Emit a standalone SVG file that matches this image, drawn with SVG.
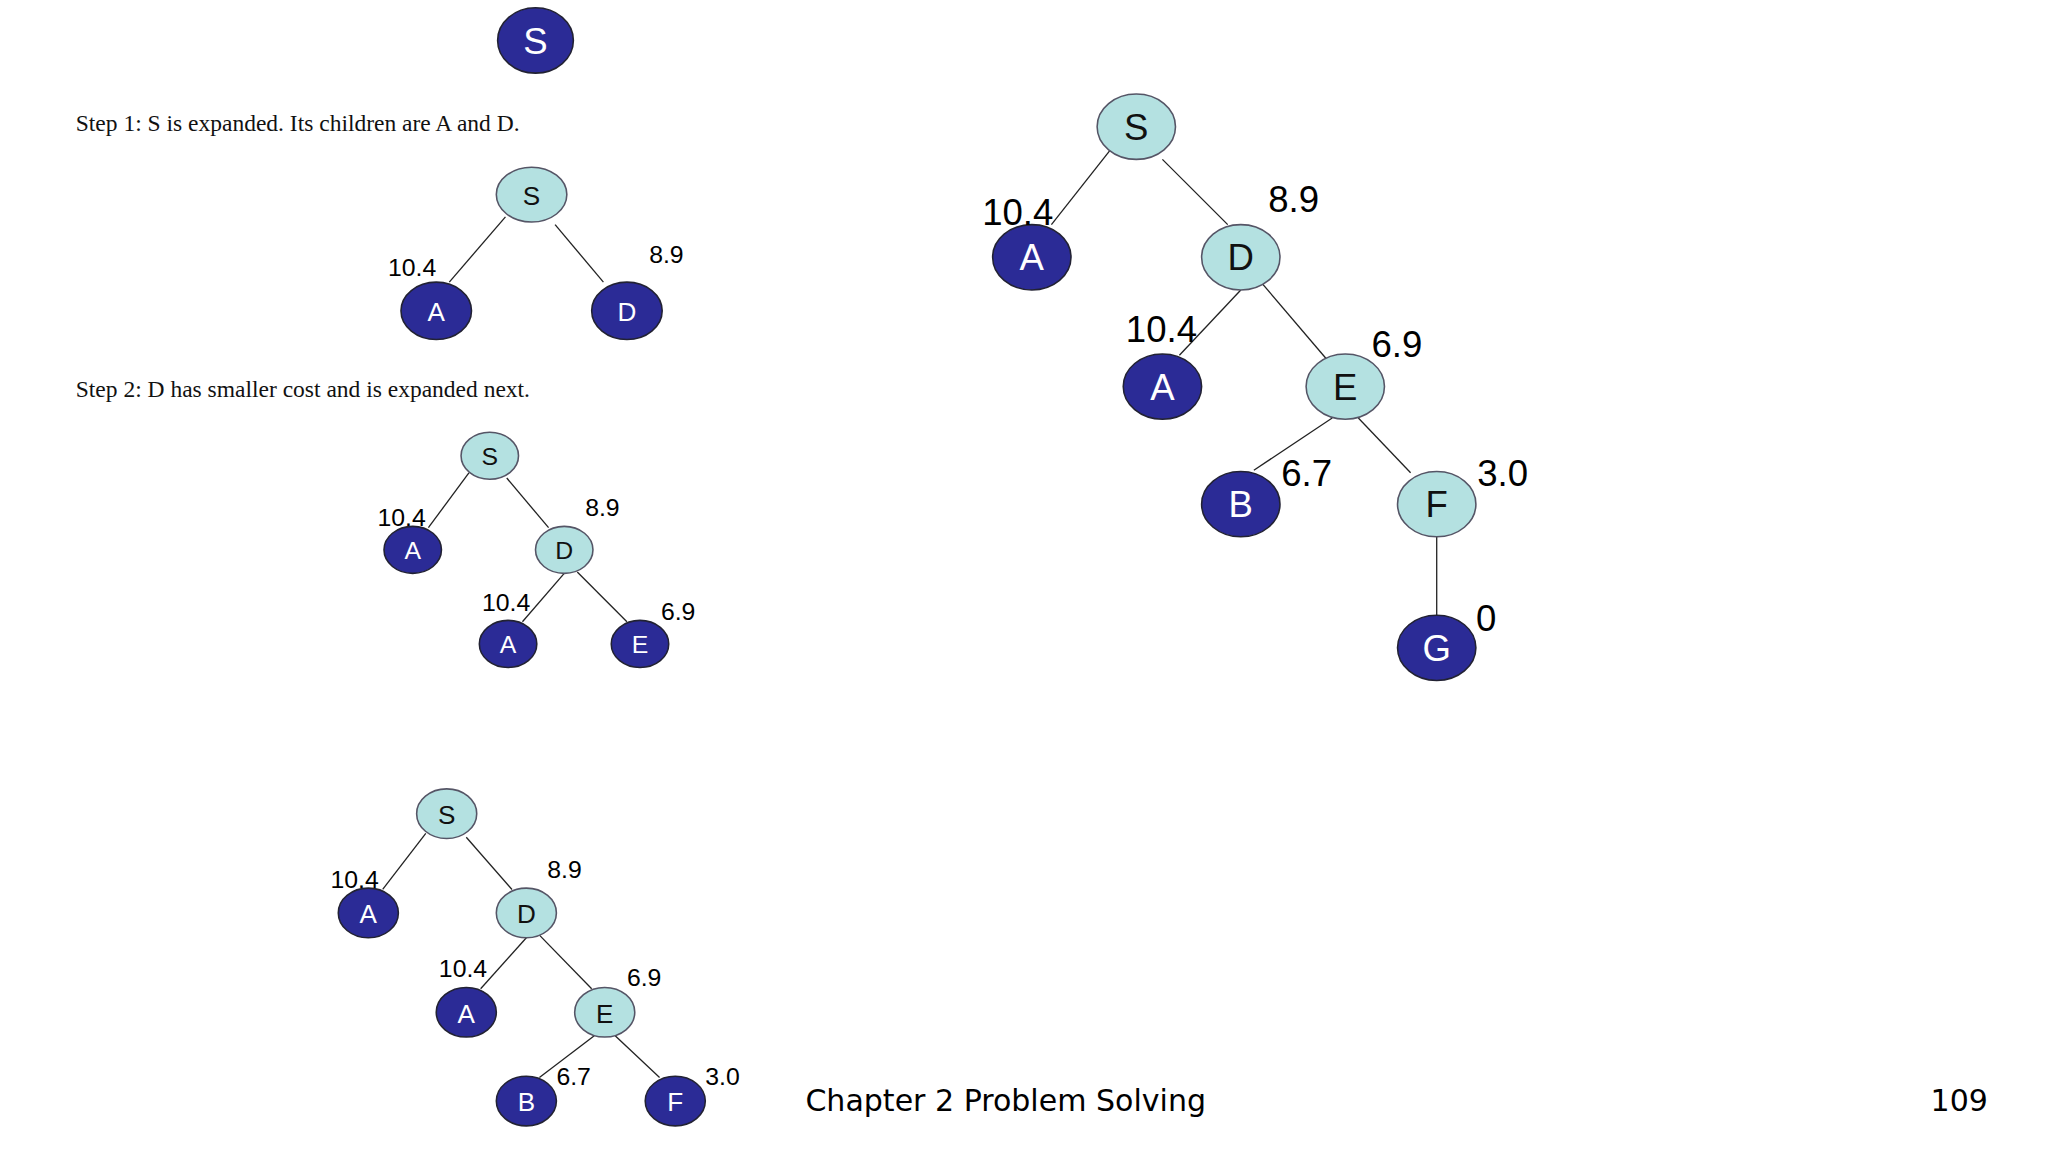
<svg xmlns="http://www.w3.org/2000/svg" width="2048" height="1152" viewBox="0 0 2048 1152">
<style>
.l{fill:#b4e1e1;stroke:#556;stroke-width:1.2}
.d{fill:#2b2b96;stroke:#223;stroke-width:1.2}
.e{stroke:#222;stroke-width:1;fill:none}
.tw{fill:#fff;font-family:"Liberation Sans",Arial,sans-serif;text-anchor:middle}
.tb{fill:#111;font-family:"Liberation Sans",Arial,sans-serif;text-anchor:middle}
.lb{fill:#000;font-family:"Liberation Sans",Arial,sans-serif}
.st{fill:#111;font-family:"Liberation Serif","Times New Roman",serif;font-size:18px}
.ft{fill:#000;font-family:"DejaVu Sans",sans-serif;font-size:23px}
</style>
<rect width="2048" height="1152" fill="#fff"/>
<g transform="scale(1.3061)">
<g id="connectors">
<line class="e" x1="387" y1="166" x2="344" y2="216"/><line class="e" x1="425" y1="172" x2="462" y2="216"/>
<line class="e" x1="359" y1="362" x2="328" y2="404"/><line class="e" x1="388" y1="366" x2="420" y2="404"/>
<line class="e" x1="432" y1="439" x2="400" y2="476"/><line class="e" x1="442" y1="438" x2="480" y2="476"/>
<line class="e" x1="326" y1="638" x2="293" y2="681"/><line class="e" x1="357" y1="641" x2="392" y2="681"/>
<line class="e" x1="403" y1="718" x2="368" y2="757"/><line class="e" x1="413" y1="716" x2="453" y2="757"/>
<line class="e" x1="455" y1="793" x2="413" y2="825"/><line class="e" x1="471" y1="793" x2="505" y2="825"/>
<line class="e" x1="850" y1="115" x2="805" y2="172"/><line class="e" x1="890" y1="122" x2="940" y2="172"/>
<line class="e" x1="950" y1="222" x2="903" y2="272"/><line class="e" x1="962" y1="212" x2="1020" y2="280"/>
<line class="e" x1="1020" y1="320" x2="960" y2="360"/><line class="e" x1="1040" y1="320" x2="1080" y2="362"/>
<line class="e" x1="1100" y1="411" x2="1100" y2="471"/>
</g>
<g id="n0"><ellipse class="d" cx="410" cy="31" rx="29" ry="25"/><text class="tw" x="410" y="41" font-size="28">S</text></g>
<text class="st" x="58" y="100">Step 1: S is expanded. Its children are A and D.</text>
<text class="st" x="58" y="304">Step 2: D has smaller cost and is expanded next.</text>
<g id="t1">
<ellipse class="l" cx="407" cy="149" rx="27" ry="21"/><text class="tb" x="407" y="157" font-size="20">S</text>
<ellipse class="d" cx="334" cy="238" rx="27" ry="22"/><text class="tw" x="334" y="246" font-size="20">A</text>
<ellipse class="d" cx="480" cy="238" rx="27" ry="22"/><text class="tw" x="480" y="246" font-size="20">D</text>
<text class="lb" x="297" y="211" font-size="19">10.4</text><text class="lb" x="497" y="201" font-size="19">8.9</text>
</g>
<g id="t2" font-size="19">
<ellipse class="l" cx="375" cy="349" rx="22" ry="18"/><text class="tb" x="375" y="356" font-size="19">S</text>
<ellipse class="d" cx="316" cy="421" rx="22" ry="18"/><text class="tw" x="316" y="428" font-size="19">A</text>
<ellipse class="l" cx="432" cy="421" rx="22" ry="18"/><text class="tb" x="432" y="428" font-size="19">D</text>
<ellipse class="d" cx="389" cy="493" rx="22" ry="18"/><text class="tw" x="389" y="500" font-size="19">A</text>
<ellipse class="d" cx="490" cy="493" rx="22" ry="18"/><text class="tw" x="490" y="500" font-size="19">E</text>
<text class="lb" x="289" y="403" font-size="19">10.4</text><text class="lb" x="448" y="395" font-size="19">8.9</text>
<text class="lb" x="369" y="468" font-size="19">10.4</text><text class="lb" x="506" y="475" font-size="19">6.9</text>
</g>
<g id="t3">
<ellipse class="l" cx="342" cy="623" rx="23" ry="19"/><text class="tb" x="342" y="631" font-size="20">S</text>
<ellipse class="d" cx="282" cy="699" rx="23" ry="19"/><text class="tw" x="282" y="707" font-size="20">A</text>
<ellipse class="l" cx="403" cy="699" rx="23" ry="19"/><text class="tb" x="403" y="707" font-size="20">D</text>
<ellipse class="d" cx="357" cy="775" rx="23" ry="19"/><text class="tw" x="357" y="783" font-size="20">A</text>
<ellipse class="l" cx="463" cy="775" rx="23" ry="19"/><text class="tb" x="463" y="783" font-size="20">E</text>
<ellipse class="d" cx="403" cy="843" rx="23" ry="19"/><text class="tw" x="403" y="851" font-size="20">B</text>
<ellipse class="d" cx="517" cy="843" rx="23" ry="19"/><text class="tw" x="517" y="851" font-size="20">F</text>
<text class="lb" x="253" y="680" font-size="19">10.4</text><text class="lb" x="419" y="672" font-size="19">8.9</text>
<text class="lb" x="336" y="748" font-size="19">10.4</text><text class="lb" x="480" y="755" font-size="19">6.9</text>
<text class="lb" x="426" y="831" font-size="19">6.7</text><text class="lb" x="540" y="831" font-size="19">3.0</text>
</g>
<g id="big">
<ellipse class="l" cx="870" cy="97" rx="30" ry="25"/><text class="tb" x="870" y="107" font-size="28">S</text>
<ellipse class="d" cx="790" cy="197" rx="30" ry="25"/><text class="tw" x="790" y="207" font-size="28">A</text>
<ellipse class="l" cx="950" cy="197" rx="30" ry="25"/><text class="tb" x="950" y="207" font-size="28">D</text>
<ellipse class="d" cx="890" cy="296" rx="30" ry="25"/><text class="tw" x="890" y="306" font-size="28">A</text>
<ellipse class="l" cx="1030" cy="296" rx="30" ry="25"/><text class="tb" x="1030" y="306" font-size="28">E</text>
<ellipse class="d" cx="950" cy="386" rx="30" ry="25"/><text class="tw" x="950" y="396" font-size="28">B</text>
<ellipse class="l" cx="1100" cy="386" rx="30" ry="25"/><text class="tb" x="1100" y="396" font-size="28">F</text>
<ellipse class="d" cx="1100" cy="496" rx="30" ry="25"/><text class="tw" x="1100" y="506" font-size="28">G</text>
<text class="lb" x="752" y="172" font-size="28">10.4</text><text class="lb" x="971" y="162" font-size="28">8.9</text>
<text class="lb" x="862" y="262" font-size="28">10.4</text><text class="lb" x="1050" y="273" font-size="28">6.9</text>
<text class="lb" x="981" y="372" font-size="28">6.7</text><text class="lb" x="1131" y="372" font-size="28">3.0</text>
<text class="lb" x="1130" y="483" font-size="28">0</text>
</g>
<text class="ft" x="770" y="851" text-anchor="middle">Chapter 2 Problem Solving</text>
<text class="ft" x="1522" y="851" text-anchor="end">109</text>
</g>
</svg>
